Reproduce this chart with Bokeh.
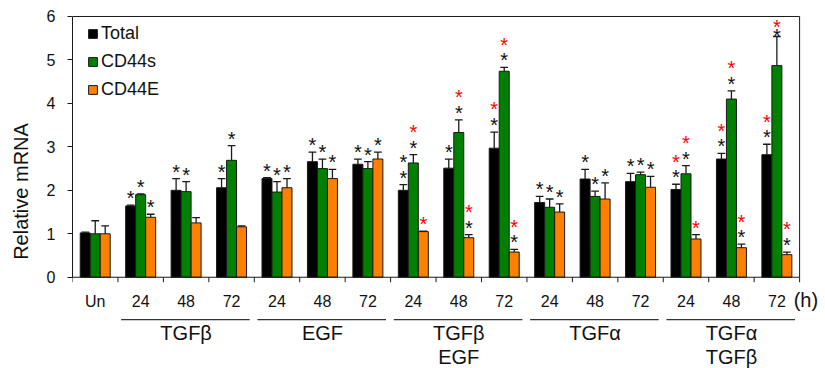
from bokeh.plotting import figure
from bokeh.models import Range1d, FixedTicker, Legend, LegendItem, ColumnDataSource
from bokeh.core.properties import value
from bokeh.embed import file_html
from bokeh.resources import INLINE

# ---------------- data ----------------
categories = ["Un", "24", "48", "72", "24", "48", "72", "24", "48", "72",
              "24", "48", "72", "24", "48", "72"]
group_names = [["TGFβ"], ["EGF"], ["TGFβ", "EGF"], ["TGFα"], ["TGFα", "TGFβ"]]
group_first = [1, 4, 7, 10, 13]
group_size = 3
unit_label = "(h)"
y_ticks = [0, 1, 2, 3, 4, 5, 6]

series_names = ["Total", "CD44s", "CD44E"]
total = [1.02, 1.64, 2.00, 2.06, 2.27, 2.66, 2.60, 2.00, 2.51, 2.97, 1.72, 2.26, 2.20, 2.02, 2.72, 2.82]
total_err = [0.02, 0.02, 0.27, 0.21, 0.02, 0.22, 0.12, 0.13, 0.21, 0.37, 0.14, 0.22, 0.19, 0.12, 0.13, 0.24]
cd44s = [1.00, 1.90, 1.97, 2.69, 1.96, 2.50, 2.50, 2.63, 3.33, 4.74, 1.61, 1.86, 2.36, 2.38, 4.10, 4.87]
cd44s_err = [0.30, 0.02, 0.23, 0.34, 0.24, 0.22, 0.16, 0.19, 0.29, 0.09, 0.19, 0.12, 0.06, 0.19, 0.19, 0.67]
cd44e = [1.00, 1.38, 1.25, 1.16, 2.06, 2.27, 2.72, 1.05, 0.91, 0.58, 1.50, 1.80, 2.07, 0.88, 0.68, 0.52]
cd44e_err = [0.18, 0.07, 0.12, 0.02, 0.21, 0.21, 0.16, 0.01, 0.07, 0.06, 0.19, 0.37, 0.25, 0.10, 0.08, 0.06]

# significance asterisks (counts per bar): black first, red stacked above
total_black = [0, 1, 1, 1, 1, 1, 1, 2, 1, 1, 1, 1, 1, 1, 1, 1]
total_red   = [0, 0, 0, 0, 0, 0, 0, 0, 0, 1, 0, 0, 0, 1, 1, 1]
cd44s_black = [0, 1, 1, 1, 1, 1, 1, 1, 1, 1, 1, 1, 1, 1, 1, 1]
cd44s_red   = [0, 0, 0, 0, 0, 0, 0, 1, 1, 1, 0, 0, 0, 1, 1, 1]
cd44e_black = [0, 1, 0, 0, 1, 1, 1, 0, 1, 1, 1, 1, 1, 0, 1, 1]
cd44e_red   = [0, 0, 0, 0, 0, 0, 0, 1, 1, 1, 0, 0, 0, 1, 1, 1]

colors = ["#000000", "#008000", "#FF8000"]
FONT = "Liberation Sans"
LINE = "#1a1a1a"
TXT = "#111111"

n_cat = len(categories)
y_max = y_ticks[-1]

# ---------------- figure ----------------
p = figure(width=825, height=368, output_backend="svg", toolbar_location=None,
           x_range=Range1d(0, 16.57), y_range=Range1d(-2.10, 6.046),
           x_axis_location=None,
           min_border_left=72, min_border_right=0, min_border_top=14, min_border_bottom=0)
p.background_fill_color = "white"
p.border_fill_color = "white"
p.outline_line_color = None
p.xgrid.visible = False
p.ygrid.visible = False

offsets = [-0.22, 0.0, 0.22]
bar_w = 0.22
vals = [total, cd44s, cd44e]
errs = [total_err, cd44s_err, cd44e_err]
blacks = [total_black, cd44s_black, cd44e_black]
reds = [total_red, cd44s_red, cd44e_red]

renderers = []
star_x, star_y, star_t, star_c = [], [], [], []
for s in range(3):
    xs = [i + 0.5 + offsets[s] for i in range(n_cat)]
    src = ColumnDataSource(dict(x=xs, top=vals[s]))
    r = p.vbar(x="x", top="top", width=bar_w, bottom=0, source=src,
               fill_color=colors[s], line_color=LINE, line_width=1)
    renderers.append(r)
    tops = [v + e for v, e in zip(vals[s], errs[s])]
    esrc = ColumnDataSource(dict(x=xs, y0=vals[s], y1=tops,
                                 cx0=[x - 0.085 for x in xs], cx1=[x + 0.085 for x in xs]))
    p.segment(x0="x", y0="y0", x1="x", y1="y1", source=esrc, line_color=LINE, line_width=1.3)
    p.segment(x0="cx0", y0="y1", x1="cx1", y1="y1", source=esrc, line_color=LINE, line_width=1.3)
    for i in range(n_cat):
        n = blacks[s][i] + reds[s][i]
        if n == 0:
            continue
        base = tops[i] + 0.23
        step = 0.36
        if base + step * (n - 1) > 5.82:
            step = 0.2
            base = 5.82 - step * (n - 1)
        for k in range(n):
            star_x.append(xs[i])
            star_y.append(base + k * step)
            star_t.append("*")
            star_c.append(TXT if k < blacks[s][i] else "#FF0000")

ssrc = ColumnDataSource(dict(x=star_x, y=star_y, t=star_t, c=star_c))
p.text(x="x", y="y", text="t", source=ssrc, text_color="c",
       text_font=value(FONT), text_font_size="20px", text_align="center",
       text_baseline="alphabetic", y_offset=3)

# ---------------- frame box (bottom axis line, top and right borders) ----------------
p.multi_line(xs=[[0, n_cat], [0, n_cat], [n_cat, n_cat]],
             ys=[[0, 0], [y_max, y_max], [0, y_max]], line_color=LINE, line_width=1)
# x ticks at category boundaries
tick_len = 0.115
p.segment(x0=list(range(n_cat + 1)), y0=[0] * (n_cat + 1),
          x1=list(range(n_cat + 1)), y1=[-tick_len] * (n_cat + 1), line_color=LINE, line_width=1)

# category labels
p.text(x=[i + 0.5 for i in range(n_cat)], y=[-0.552] * n_cat, text=categories,
       text_font=value(FONT), text_font_size="16px", text_color=TXT,
       text_align="center", text_baseline="middle")
p.text(x=[15.87], y=[-0.53], text=[unit_label], text_font=value(FONT), text_font_size="20px",
       text_color=TXT, text_align="left", text_baseline="middle")

# group underlines and labels
ul_x0 = [g + 0.07 for g in group_first]
ul_x1 = [g + group_size - 0.1 for g in group_first]
p.segment(x0=ul_x0, y0=[-0.974] * len(group_first), x1=ul_x1, y1=[-0.974] * len(group_first),
          line_color="#333333", line_width=1.2)
gl_x, gl_y, gl_t = [], [], []
for g, names in enumerate(group_names):
    center = group_first[g] + group_size / 2
    for li, nm in enumerate(names):
        gl_x.append(center)
        gl_y.append(-1.284 - 0.54 * li)
        gl_t.append(nm)
p.text(x=gl_x, y=gl_y, text=gl_t, text_font=value(FONT), text_font_size="20px",
       text_color=TXT, text_align="center", text_baseline="middle")

# ---------------- y axis ----------------
ya = p.yaxis[0]
ya.bounds = (0, y_max)
ya.ticker = FixedTicker(ticks=y_ticks, minor_ticks=[])
ya.major_tick_out = 5
ya.major_tick_in = 0
ya.axis_line_color = LINE
ya.major_tick_line_color = LINE
ya.major_label_text_font = FONT
ya.major_label_text_font_size = "16px"
ya.major_label_text_color = TXT
ya.major_label_standoff = 12
ya.axis_label = "Relative mRNA"
ya.axis_label_text_font = FONT
ya.axis_label_text_font_size = "20px"
ya.axis_label_text_font_style = "normal"
ya.axis_label_text_color = TXT
ya.axis_label_standoff = 12

# ---------------- legend ----------------
legend = Legend(items=[LegendItem(label=series_names[s], renderers=[renderers[s]]) for s in range(3)],
                location=(15, 268), orientation="vertical",
                glyph_width=11, glyph_height=11, label_height=22, spacing=6,
                padding=0, margin=0, label_standoff=3,
                label_text_font=FONT, label_text_font_size="18px", label_text_color=TXT,
                border_line_color=None, background_fill_alpha=0)
p.add_layout(legend, "center")

open("out.html", "w").write(file_html(p, INLINE))
